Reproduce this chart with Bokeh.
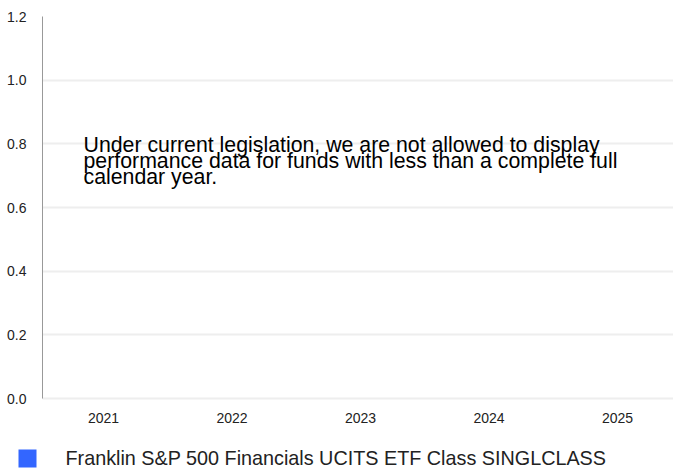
from bokeh.plotting import figure
from bokeh.models import (ColumnDataSource, Label, FixedTicker, BoxAnnotation,
                          NumeralTickFormatter, Range1d)
from bokeh.embed import file_html
from bokeh.resources import INLINE

years = ["2021", "2022", "2023", "2024", "2025"]
series_name = "Franklin S&P 500 Financials UCITS ETF Class SINGLCLASS"
series_values = []  # no data displayed
y_ticks = [0.0, 0.2, 0.4, 0.6, 0.8, 1.0, 1.2]
notice = ["Under current legislation, we are not allowed to display",
          "performance data for funds with less than a complete full",
          "calendar year."]

FONT = "Liberation Sans"
BAR_COLOR = "#3366ff"

x_pos = [i + 0.5 for i in range(len(years))]

p = figure(x_range=Range1d(0.025, 4.935), y_range=Range1d(0, 1.2), width=673, height=430,
           output_backend="svg", toolbar_location=None,
           min_border_left=42, min_border_right=0, min_border_top=16, min_border_bottom=32)
p.outline_line_color = None
p.background_fill_color = "white"

src = ColumnDataSource(data=dict(x=x_pos[:len(series_values)], top=series_values))
r = p.vbar(x="x", top="top", width=0.6, source=src, fill_color=BAR_COLOR, line_color=None)

p.yaxis.ticker = FixedTicker(ticks=y_ticks)
p.yaxis.formatter = NumeralTickFormatter(format="0.0")
p.yaxis.axis_line_color = "#999999"
p.yaxis.major_tick_line_color = None
p.yaxis.minor_tick_line_color = None
p.yaxis.major_label_text_font = FONT
p.yaxis.major_label_text_font_size = "14px"
p.yaxis.major_label_text_color = "#222222"
p.yaxis.major_label_standoff = 10

p.xaxis.ticker = FixedTicker(ticks=x_pos)
p.xaxis.major_label_overrides = {x: y for x, y in zip(x_pos, years)}
p.xaxis.axis_line_color = "#eeeeee"
p.xaxis.axis_line_width = 2
p.xaxis.major_tick_line_color = None
p.xaxis.minor_tick_line_color = None
p.xaxis.major_label_text_font = FONT
p.xaxis.major_label_text_font_size = "14px"
p.xaxis.major_label_text_color = "#222222"
p.xaxis.major_label_standoff = 8

p.xgrid.grid_line_color = None
p.ygrid.grid_line_color = "#eeeeee"
p.ygrid.grid_line_width = 2

for i, line in enumerate(notice):
    p.add_layout(Label(x=41, y=398 - 144 - i * 16, x_units="screen", y_units="screen", text=line,
                       text_font=FONT, text_font_size="21.3px", text_color="#000000",
                       text_baseline="alphabetic"))

# legend strip below the chart (coordinates in pixels, y measured from the top)
lg = figure(x_range=Range1d(0, 673), y_range=Range1d(43, 0), width=673, height=43,
            output_backend="svg", toolbar_location=None,
            x_axis_location=None, y_axis_location=None,
            min_border_left=0, min_border_right=0, min_border_top=0, min_border_bottom=0)
lg.outline_line_color = None
lg.xgrid.grid_line_color = None
lg.ygrid.grid_line_color = None
lg.add_layout(BoxAnnotation(left=18, right=36, top=19, bottom=37,
                            fill_color=BAR_COLOR, fill_alpha=1.0, line_color=None))
lg.add_layout(Label(x=65, y=27, text=series_name, text_font=FONT, text_font_size="19.8px",
                    text_color="#222222", text_baseline="middle"))

open("out.html", "w").write(file_html([p, lg], INLINE))
